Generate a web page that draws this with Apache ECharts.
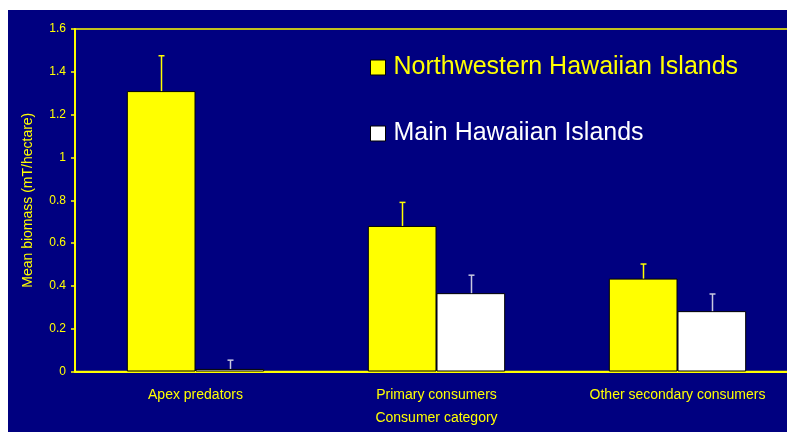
<!DOCTYPE html>
<html>
<head>
<meta charset="utf-8">
<script src="https://cdn.jsdelivr.net/npm/echarts@6/dist/echarts.min.js"></script>
<style>
  html, body { margin: 0; padding: 0; background: #ffffff; overflow: hidden; width: 787px; height: 432px; }
  #chart { position: absolute; left: 0; top: 0; width: 810px; height: 432px; }
</style>
</head>
<body>
<div id="chart"></div>
<script>
const categories = ['Apex predators', 'Primary consumers', 'Other secondary consumers'];
const seriesNames = ['Northwestern Hawaiian Islands', 'Main Hawaiian Islands'];
const nwhiValues = [1.31, 0.68, 0.434];
const nwhiErrors = [0.165, 0.11, 0.068];
const mhiValues = [0.012, 0.366, 0.282];
const mhiErrors = [0.041, 0.084, 0.08];
const yTicks = { min: 0, max: 1.6, interval: 0.2 };

const FONT = '"Liberation Sans", Arial, sans-serif';
const YELLOW = '#ffff00';
const NAVY = '#000080';
const BAR_FRAC = 0.285;

function errorSeries(values, errors, sign, color) {
  return {
    type: 'custom',
    coordinateSystem: 'cartesian2d',
    z: 5,
    silent: true,
    data: values.map((v, i) => [i, v, errors[i]]),
    encode: { x: 0, y: 1 },
    renderItem: function (params, api) {
      const band = api.size([1, 0])[0];
      const base = api.coord([api.value(0), api.value(1)]);
      const top = api.coord([api.value(0), api.value(1) + api.value(2)]);
      const x = Math.round(base[0] + sign * band * BAR_FRAC / 2) + 0.5;
      return {
        type: 'group',
        children: [
          { type: 'line', shape: { x1: x, y1: base[1], x2: x, y2: top[1] }, style: { stroke: color, lineWidth: 1.5 } },
          { type: 'line', shape: { x1: x - 3, y1: top[1], x2: x + 3, y2: top[1] }, style: { stroke: color, lineWidth: 1.5 } }
        ]
      };
    }
  };
}

const chart = echarts.init(document.getElementById('chart'), null, { renderer: 'canvas' });
chart.setOption({
  backgroundColor: '#ffffff',
  animation: false,
  textStyle: { fontFamily: FONT },
  graphic: [{ type: 'rect', z: -10, shape: { x: 8, y: 10, width: 810, height: 430 }, style: { fill: NAVY } }],
  grid: { left: 75, top: 29, width: 723, height: 342.5, show: true, borderColor: YELLOW, borderWidth: 1.5, backgroundColor: 'transparent' },
  legend: {
    orient: 'vertical',
    left: 365,
    top: 50,
    itemWidth: 15,
    itemHeight: 15,
    itemGap: 41,
    icon: 'rect',
    textStyle: { fontFamily: FONT, fontSize: 25, padding: [0, 0, 0, 3] },
    data: [
      { name: seriesNames[0], textStyle: { color: YELLOW }, itemStyle: { borderColor: '#000', borderWidth: 1 } },
      { name: seriesNames[1], textStyle: { color: '#ffffff' }, itemStyle: { borderColor: '#000', borderWidth: 1 } }
    ]
  },
  xAxis: {
    type: 'category',
    data: categories,
    name: 'Consumer category',
    nameLocation: 'middle',
    nameGap: 40,
    nameTextStyle: { color: YELLOW, fontSize: 14, fontFamily: FONT },
    axisLine: { lineStyle: { color: YELLOW, width: 2 } },
    axisTick: { show: false },
    axisLabel: { color: YELLOW, fontSize: 14, fontFamily: FONT, margin: 17, interval: 0 },
    splitLine: { show: false }
  },
  yAxis: {
    type: 'value',
    min: yTicks.min,
    max: yTicks.max,
    interval: yTicks.interval,
    name: 'Mean biomass (mT/hectare)',
    nameLocation: 'middle',
    nameGap: 40,
    nameTextStyle: { color: YELLOW, fontSize: 14, fontFamily: FONT },
    axisLine: { show: true, lineStyle: { color: YELLOW, width: 2 } },
    axisTick: { show: true, length: 4, lineStyle: { color: YELLOW, width: 1.5 } },
    axisLabel: { color: YELLOW, fontSize: 12, fontFamily: FONT, margin: 9 },
    splitLine: { show: false }
  },
  series: [
    {
      name: seriesNames[0], type: 'bar', data: nwhiValues,
      barWidth: (BAR_FRAC * 100) + '%', barGap: '0%',
      itemStyle: { color: YELLOW, borderColor: '#000', borderWidth: 1 }
    },
    {
      name: seriesNames[1], type: 'bar', data: mhiValues,
      barWidth: (BAR_FRAC * 100) + '%', barGap: '0%',
      itemStyle: { color: '#ffffff', borderColor: '#000', borderWidth: 1 }
    },
    errorSeries(nwhiValues, nwhiErrors, -1, YELLOW),
    errorSeries(mhiValues, mhiErrors, 1, '#c8c8e0')
  ]
});
</script>
</body>
</html>
